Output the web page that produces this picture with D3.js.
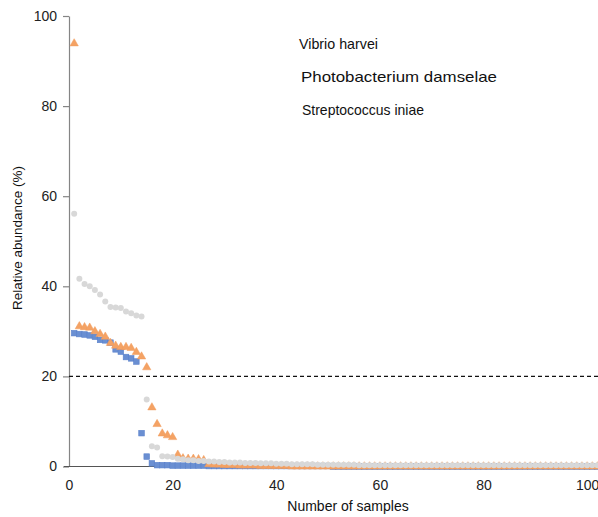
<!DOCTYPE html>
<html>
<head>
<meta charset="utf-8">
<script src="https://cdn.jsdelivr.net/npm/d3@7"></script>
<style>
  html, body { margin: 0; padding: 0; background: #ffffff; }
  svg { display: block; }
</style>
</head>
<body>
<div id="chart"></div>
<script>
// ---- Data ----
const seriesNames = ["Vibrio harvei", "Photobacterium damselae", "Streptococcus iniae"];

const vibrioHarvei = [
  29.6, 29.4, 29.3, 29.1, 28.8, 28.1, 28.0, 27.5, 26.0, 25.5,
  24.3, 24.0, 23.3, 7.4, 2.2, 0.7, 0.3, 0.3, 0.3, 0.2,
  0.2, 0.2, 0.2, 0.2, 0.2, 0.2, 0.1, 0.1, 0.1, 0.1,
  0.1, 0.1, 0.1, 0.1, 0.1, 0.1, 0.1, 0.1, 0.1, 0.1,
  0.1, 0.1, 0.1, 0.1, 0.1, 0.1, 0.1, 0.1, 0.1, 0.1,
  0.0, 0.0, 0.0, 0.0, 0.0, 0.0, 0.0, 0.0, 0.0, 0.0,
  0.0, 0.0, 0.0, 0.0, 0.0, 0.0, 0.0, 0.0, 0.0, 0.0,
  0.0, 0.0, 0.0, 0.0, 0.0, 0.0, 0.0, 0.0, 0.0, 0.0,
  0.0, 0.0, 0.0, 0.0, 0.0, 0.0, 0.0, 0.0, 0.0, 0.0,
  0.0, 0.0, 0.0, 0.0, 0.0, 0.0, 0.0, 0.0, 0.0, 0.0,
  0.0, 0.0
];

const photobacteriumDamselae = [
  93.9, 31.1, 30.9, 30.8, 30.0, 29.4, 28.8, 27.4, 26.8, 26.5,
  26.5, 26.3, 25.4, 24.4, 22.0, 13.1, 9.4, 7.3, 6.9, 6.5,
  2.6, 1.8, 1.7, 1.7, 1.6, 1.4, 0.5, 0.4, 0.4, 0.3,
  0.3, 0.3, 0.2, 0.2, 0.2, 0.2, 0.1, 0.1, 0.1, 0.1,
  0.1, 0.1, 0.0, 0.0, 0.0, 0.0, 0.0, 0.0, 0.0, 0.0,
  0.0, 0.0, 0.0, 0.0, 0.0, 0.0, 0.0, 0.0, 0.0, 0.0,
  0.0, 0.0, 0.0, 0.0, 0.0, 0.0, 0.0, 0.0, 0.0, 0.0,
  0.0, 0.0, 0.0, 0.0, 0.0, 0.0, 0.0, 0.0, 0.0, 0.0,
  0.0, 0.0, 0.0, 0.0, 0.0, 0.0, 0.0, 0.0, 0.0, 0.0,
  0.0, 0.0, 0.0, 0.0, 0.0, 0.0, 0.0, 0.0, 0.0, 0.0,
  0.0, 0.0
];

const streptococcusIniae = [
  56.1, 41.7, 40.5, 40.0, 39.2, 38.2, 36.6, 35.4, 35.3, 35.2,
  34.4, 34.0, 33.5, 33.3, 14.9, 4.5, 4.2, 2.3, 2.2, 2.1,
  1.7, 1.6, 1.4, 1.4, 1.2, 1.2, 1.1, 1.1, 1.0, 1.0,
  0.9, 0.9, 0.9, 0.8, 0.8, 0.8, 0.7, 0.7, 0.7, 0.6,
  0.6, 0.6, 0.5, 0.5, 0.5, 0.5, 0.5, 0.4, 0.4, 0.4,
  0.4, 0.4, 0.4, 0.4, 0.4, 0.3, 0.3, 0.3, 0.3, 0.3,
  0.3, 0.3, 0.3, 0.3, 0.3, 0.3, 0.3, 0.3, 0.3, 0.3,
  0.3, 0.3, 0.3, 0.3, 0.3, 0.3, 0.3, 0.3, 0.3, 0.3,
  0.3, 0.3, 0.3, 0.3, 0.3, 0.3, 0.3, 0.3, 0.3, 0.3,
  0.3, 0.3, 0.3, 0.3, 0.3, 0.3, 0.3, 0.3, 0.3, 0.3,
  0.3, 0.3
];

const xTicks = [0, 20, 40, 60, 80, 100];
const yTicks = [0, 20, 40, 60, 80, 100];
const thresholdValue = [20];

// ---- Layout ----
const W = 598, H = 517;
const svg = d3.select("#chart").append("svg")
  .attr("width", W).attr("height", H)
  .style("background", "#fff");

const x = d3.scaleLinear().domain([0, 102.1]).range([69, 598]);
const y = d3.scaleLinear().domain([0, 100]).range([466.5, 16]);

const tickFont = "'Liberation Sans', Arial, sans-serif";

svg.append("clipPath").attr("id", "plotclip")
  .append("rect").attr("x", 60).attr("y", 0).attr("width", W - 60).attr("height", 480);

// Y axis
const yAxis = svg.append("g")
  .attr("transform", `translate(${x(0)},0)`)
  .call(d3.axisLeft(y).tickValues(yTicks).tickSize(6).tickPadding(6).tickSizeOuter(0));
yAxis.select(".domain").attr("stroke", "#858585").attr("stroke-width", 1.2);
yAxis.selectAll(".tick line").attr("stroke", "#858585").attr("stroke-width", 1.2);
yAxis.selectAll(".tick text")
  .attr("font-family", tickFont).attr("font-size", 14).attr("fill", "#222");

// X axis (line + labels, no tick marks)
const xAxis = svg.append("g")
  .attr("transform", `translate(0,${y(0)})`)
  .call(d3.axisBottom(x).tickValues(xTicks).tickSize(0).tickPadding(14).tickSizeOuter(0));
xAxis.select(".domain").attr("stroke", "#555").attr("stroke-width", 1.2)
  .attr("d", `M64,0H${W}`);
xAxis.selectAll(".tick text")
  .attr("font-family", tickFont).attr("font-size", 14).attr("fill", "#222");

// Threshold dashed line
svg.append("g").selectAll("line").data(thresholdValue).join("line")
  .attr("x1", x(0)).attr("x2", W)
  .attr("y1", d => y(d)).attr("y2", d => y(d))
  .attr("stroke", "#111").attr("stroke-width", 1.2)
  .attr("stroke-dasharray", "4,3");

const plot = svg.append("g").attr("clip-path", "url(#plotclip)");

const toPts = arr => arr.map((v, i) => ({ n: i + 1, v }));

// Series 1: blue squares
const sq = 5.6;
plot.append("g").selectAll("rect").data(toPts(vibrioHarvei)).join("rect")
  .attr("x", d => x(d.n) - sq / 2).attr("y", d => y(d.v) - sq / 2)
  .attr("width", sq).attr("height", sq)
  .attr("fill", "#6a8fd2").attr("stroke", "#5b82cc").attr("stroke-width", 0.6);

// Series 2: orange triangles
const tri = d3.symbol().type(d3.symbolTriangle).size(30);
plot.append("g").selectAll("path").data(toPts(photobacteriumDamselae)).join("path")
  .attr("d", tri)
  .attr("transform", d => `translate(${x(d.n)},${y(d.v)})`)
  .attr("fill", "#f4a264").attr("stroke", "#f19a5a").attr("stroke-width", 0.5);

// Series 3: grey circles
plot.append("g").selectAll("circle").data(toPts(streptococcusIniae)).join("circle")
  .attr("cx", d => x(d.n)).attr("cy", d => y(d.v)).attr("r", 3)
  .attr("fill", "#d8d8d8");

// Legend (text only, as in the reference)
const legendPos = [
  { x: 299, y: 49, len: 79 },
  { x: 301, y: 82, len: 196 },
  { x: 302, y: 115, len: 122 }
];
svg.append("g").selectAll("text").data(seriesNames).join("text")
  .attr("x", (d, i) => legendPos[i].x)
  .attr("y", (d, i) => legendPos[i].y)
  .attr("textLength", (d, i) => legendPos[i].len)
  .attr("lengthAdjust", "spacingAndGlyphs")
  .attr("font-family", "'Liberation Sans', Arial, sans-serif")
  .attr("font-size", 15)
  .attr("fill", "#111")
  .text(d => d);

// Axis titles
svg.append("text")
  .attr("x", 348).attr("y", 511)
  .attr("text-anchor", "middle")
  .attr("font-family", "'Liberation Sans', Arial, sans-serif")
  .attr("font-size", 14).attr("fill", "#111")
  .text("Number of samples");

svg.append("text")
  .attr("transform", "translate(22,238) rotate(-90)")
  .attr("text-anchor", "middle")
  .attr("font-family", "'Liberation Sans', Arial, sans-serif")
  .attr("font-size", 13.5).attr("fill", "#111")
  .text("Relative abundance (%)");
</script>
</body>
</html>
